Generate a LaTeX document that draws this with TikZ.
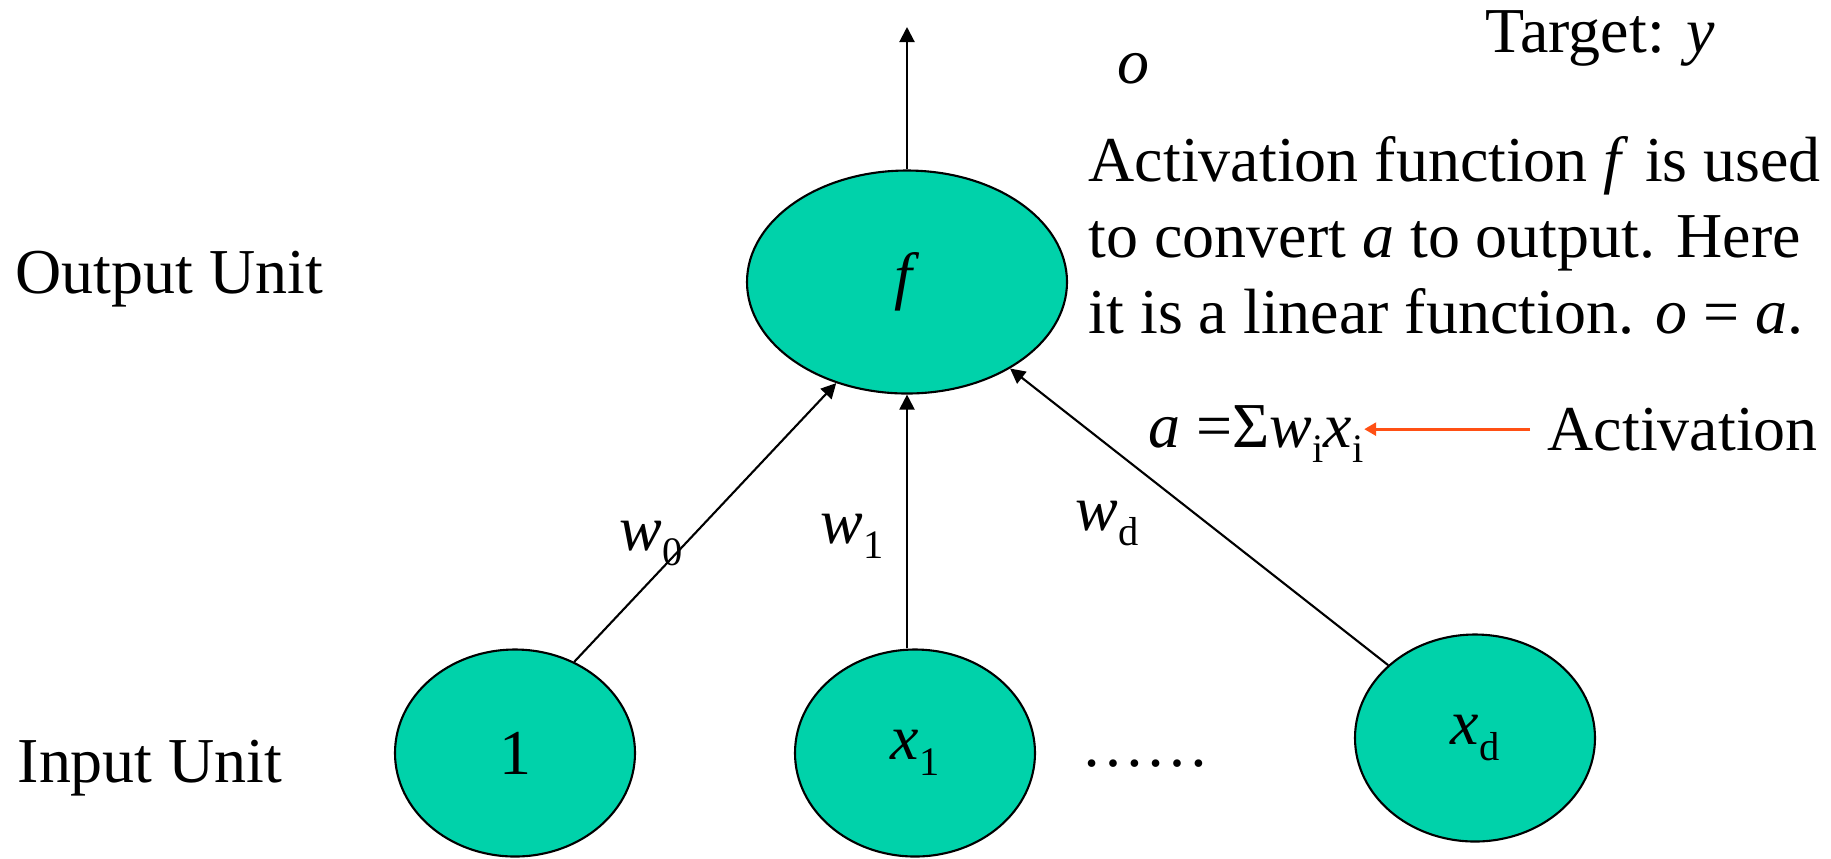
\documentclass[tikz,border=0pt]{standalone}
\usepackage{fontspec}
\setmainfont{Liberation Serif}
\usetikzlibrary{shapes.geometric,arrows.meta}
\definecolor{unitgreen}{RGB}{0,210,170}
\definecolor{actorange}{RGB}{255,80,20}
\newcommand{\lowsub}[1]{\raisebox{-4.5pt}{\fontsize{11.5pt}{11.5pt}\selectfont #1}}
\begin{document}
\begin{tikzpicture}[x=0.1mm,y=-0.1mm,
  font=\fontsize{18.2pt}{21.6pt}\selectfont,
  unit/.style={draw, ellipse, fill=unitgreen, line width=0.6pt, inner sep=0pt, minimum width=24mm, minimum height=20.7mm},
  wire/.style={line width=0.6pt, -{Triangle[length=1.5mm,width=1.5mm]}},
  txt/.style={inner sep=0pt, anchor=base west}]
\useasboundingbox (0,0) rectangle (1831,858);
\node[unit, minimum width=32mm, minimum height=22.3mm] (f) at (907,282) {\textit{f}};
\node[unit] (in1) at (515,753) {1};
\node[unit] (x1) at (915,753) {\textit{x}\lowsub{1}};
\node[unit] (xd) at (1475,738) {\textit{x}\lowsub{d}};
\node[inner sep=0pt, anchor=base] (dots) at (1145,766) {……};
\coordinate (out) at (907,27);
\node[txt] (outlbl) at (15,293) {Output Unit};
\node[txt] (inlbl) at (17,782) {Input Unit};
\node[inner sep=0pt, anchor=base] (o) at (1133,83) {\textit{o}};
\node[txt] (target) at (1485,52) {Target: \textit{y}};
\node[inner sep=0pt, anchor=north west, align=left] (note) at (1088,136)
  {Activation function \textit{f} is used\\to convert \textit{a} to output. Here\\it is a linear function. \textit{o} = \textit{a}.};
\node[txt] (sum) at (1148,447) {\textit{a} =Σ\textit{w}\lowsub{i}\textit{x}\lowsub{i}};
\node[txt] (act) at (1547,450) {Activation};
\node[txt] (w0) at (619,550) {\textit{w}\lowsub{0}};
\node[txt] (w1) at (820,543) {\textit{w}\lowsub{1}};
\node[txt] (wd) at (1075,530) {\textit{w}\lowsub{d}};
\draw[wire] (f.north) -- (out);
\draw[wire] (in1.57.7) -- (f.235.9);
\draw[wire] (x1.north -| f.south) -- (f.south);
\draw[wire] (xd.140.3) -- (f.-40.3);
\draw[line width=0.8pt, actorange, -{Triangle[length=1.2mm,width=1.3mm]}, shorten <=1.7mm] (act.west) -- (act.west -| sum.east);
\end{tikzpicture}
\end{document}
